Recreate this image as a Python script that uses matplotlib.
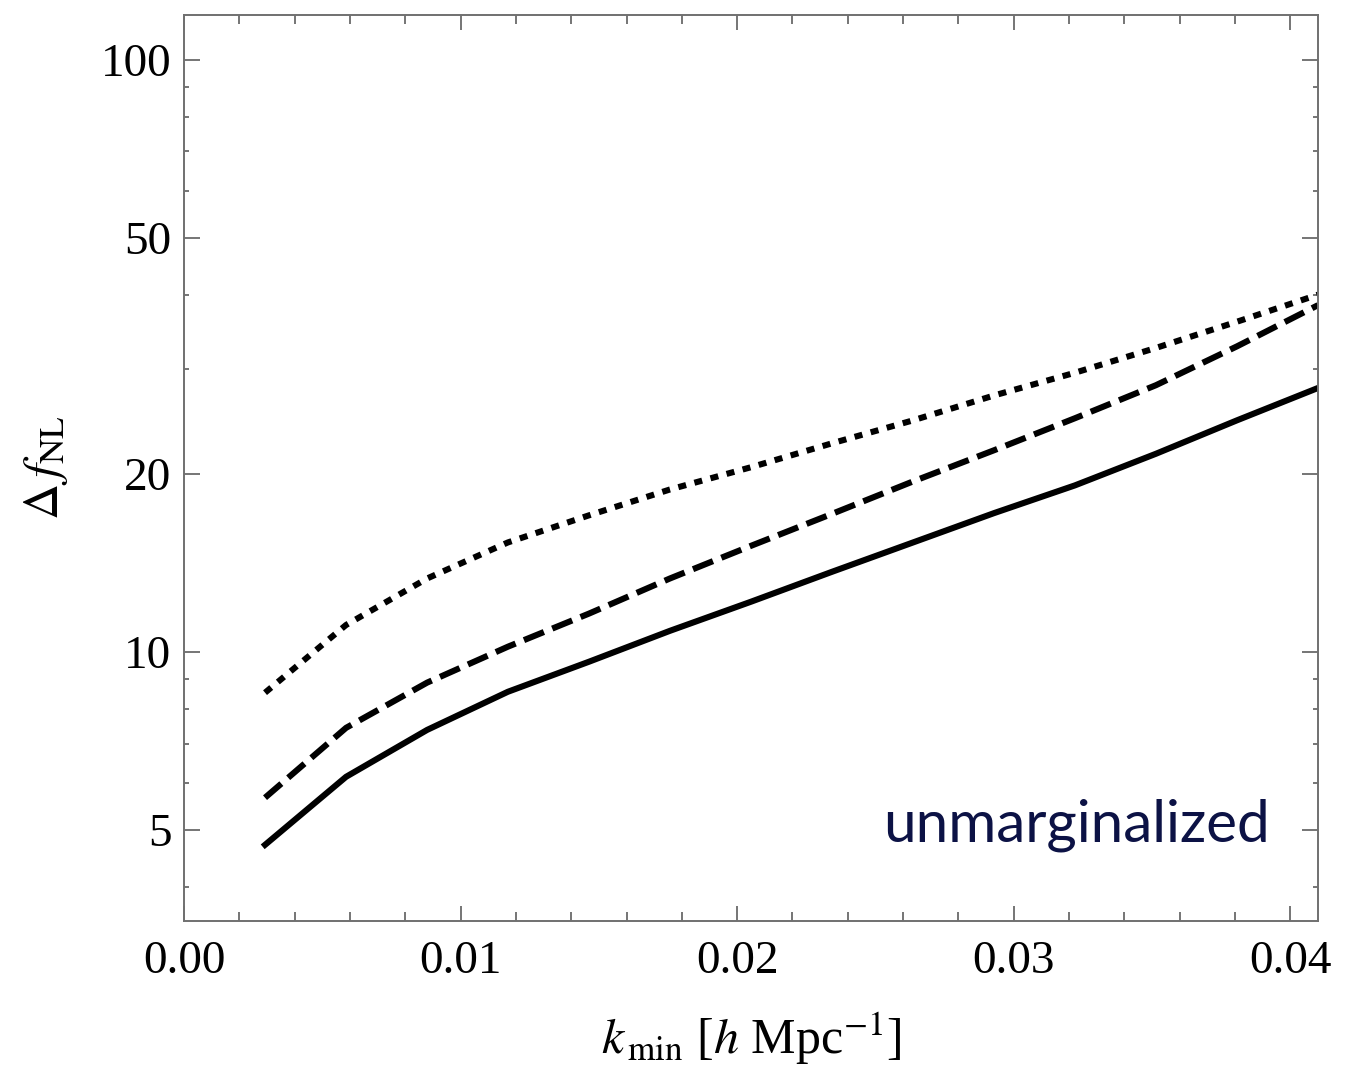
import matplotlib
matplotlib.use("Agg")
import matplotlib.pyplot as plt
import numpy as np
from matplotlib.ticker import FixedLocator, NullFormatter

plt.rcParams['font.family'] = ['Liberation Serif', 'DejaVu Serif']
plt.rcParams['mathtext.fontset'] = 'stix'
plt.rcParams['lines.scale_dashes'] = False

# k_min values (h/Mpc)
kmin = [0.00293, 0.00586, 0.00879, 0.01171, 0.01464, 0.01757, 0.0205,
        0.02343, 0.02636, 0.02929, 0.03221, 0.03514, 0.03807, 0.041]

# Delta f_NL for the three cases
solid = [4.72, 6.15, 7.38, 8.56, 9.62, 10.85, 12.15, 13.65, 15.3, 17.15,
         19.1, 21.6, 24.6, 27.9]
dashed = [5.67, 7.44, 8.87, 10.2, 11.6, 13.3, 15.1, 17.1, 19.4, 21.9,
          24.8, 28.2, 32.8, 38.5]
dotted = [8.53, 11.1, 13.3, 15.3, 17.0, 18.8, 20.5, 22.5, 24.6, 27.1,
          29.6, 32.6, 36.1, 40.1]

yticks = [5, 10, 20, 50, 100]
yminor = [4, 6, 7, 8, 9, 30, 40, 60, 70, 80, 90]
xticks = [0.00, 0.01, 0.02, 0.03, 0.04]
xminor = [0.002, 0.004, 0.006, 0.008, 0.012, 0.014, 0.016, 0.018,
          0.022, 0.024, 0.026, 0.028, 0.032, 0.034, 0.036, 0.038]

fig = plt.figure(figsize=(13.53, 10.66), dpi=100)
ax = fig.add_axes([184 / 1353, 1 - 921 / 1066, (1318 - 184) / 1353, (921 - 15) / 1066])

lw = 4.4
ax.plot(kmin, dotted, color='black', lw=lw, dashes=(5.8, 6.2), solid_capstyle='butt')
ax.plot(kmin, dashed, color='black', lw=lw, dashes=(15.5, 6.5), solid_capstyle='butt')
ax.plot(kmin, solid, color='black', lw=lw)

ax.set_yscale('log')
ax.set_xlim(0, 0.041)
ax.set_ylim(3.51, 119)

ax.yaxis.set_major_locator(FixedLocator(yticks))
ax.yaxis.set_minor_locator(FixedLocator(yminor))
ax.yaxis.set_minor_formatter(NullFormatter())
ax.set_yticklabels([str(v) for v in yticks])
ax.xaxis.set_major_locator(FixedLocator(xticks))
ax.xaxis.set_minor_locator(FixedLocator(xminor))
ax.set_xticklabels(['%.2f' % v for v in xticks])

for s in ax.spines.values():
    s.set_color('#707070')
    s.set_linewidth(1.4)

ax.tick_params(axis='both', which='both', direction='in', top=True, right=True,
               color='#505050', width=1.1, labelsize=34)
ax.tick_params(axis='y', which='major', length=11.5, pad=9)
ax.tick_params(axis='y', which='minor', length=3.6)
ax.tick_params(axis='x', which='major', length=10.8, pad=14)
ax.tick_params(axis='x', which='minor', length=6.5)

ax.set_xlabel(r'$k_{\,\rm min}$ [$h$ Mpc$^{-1}$]', fontsize=36, labelpad=20)
ax.set_ylabel(r'$\Delta\, f_{\rm NL}$', fontsize=36, labelpad=22)

ax.text(0.958, 0.088, 'unmarginalized', transform=ax.transAxes, ha='right',
        va='baseline', fontsize=42, color='#0c1245', family=['Lato', 'DejaVu Sans'])

fig.savefig('out.png', dpi=100)
